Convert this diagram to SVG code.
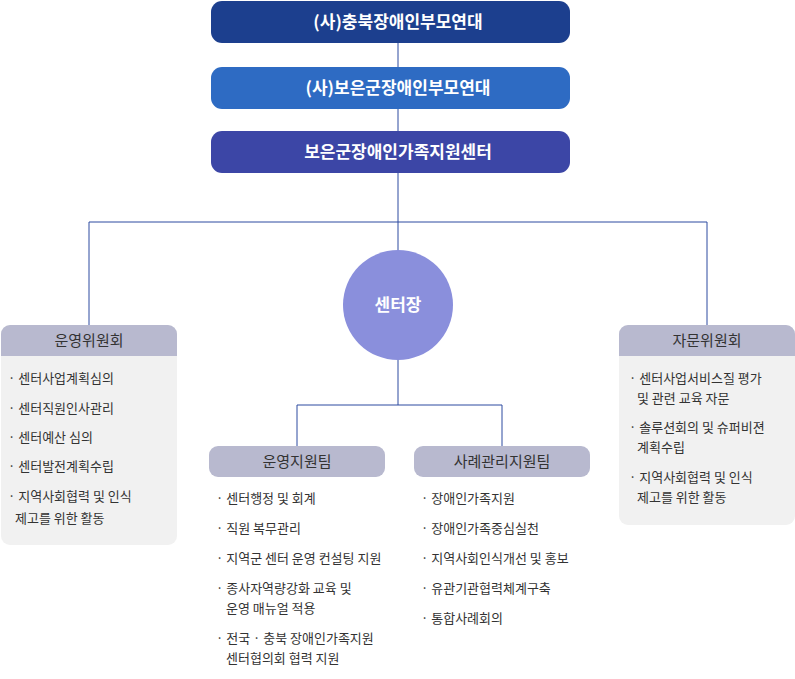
<svg xmlns="http://www.w3.org/2000/svg" width="795" height="679" viewBox="0 0 795 679">
<style>
text{font-family:"Noto Sans CJK KR","Noto Sans",sans-serif}
.tt{fill:#fff;font-size:17px;font-weight:bold;text-anchor:middle}
.hd{fill:#333;font-size:15px;text-anchor:middle}
.li{fill:#333;font-size:13px}
.ln{stroke:#2d4aa0;stroke-width:1;fill:none}
.hb{fill:#b8b9cf}
.bb{fill:#f1f1f1}
</style>
<g id="connectors">
<path class="ln" d="M398 43V67M398 109V131M398 173V250M89 325V222H707V325M398 360V405M297 446V405H502V446"/>
</g>
<g id="n1"><rect x="211" y="1" width="359" height="42" rx="11" fill="#1c3f8e"/><text class="tt" x="398" y="28">(사)충북장애인부모연대</text></g>
<g id="n2"><rect x="211" y="67" width="359" height="42" rx="11" fill="#2e6bc3"/><text class="tt" x="398" y="94">(사)보은군장애인부모연대</text></g>
<g id="n3"><rect x="211" y="131" width="359" height="42" rx="11" fill="#3c46a6"/><text class="tt" x="398" y="158">보은군장애인가족지원센터</text></g>
<g id="center"><circle cx="398" cy="305" r="55" fill="#8a8fdc"/><text class="tt" x="398" y="311">센터장</text></g>
<g id="left">
<rect class="bb" x="1" y="325" width="176" height="220" rx="9"/>
<path class="hb" d="M1 334a9 9 0 0 1 9-9h158a9 9 0 0 1 9 9v22H1z"/>
<text class="hd" x="89" y="346">운영위원회</text>
<text class="li" x="8" y="383">· 센터사업계획심의</text>
<text class="li" x="8" y="413">· 센터직원인사관리</text>
<text class="li" x="8" y="442">· 센터예산 심의</text>
<text class="li" x="8" y="471">· 센터발전계획수립</text>
<text class="li" x="8" y="501">· 지역사회협력 및 인식</text>
<text class="li" x="15" y="523">제고를 위한 활동</text>
</g>
<g id="right">
<rect class="bb" x="619" y="325" width="176" height="200" rx="9"/>
<path class="hb" d="M619 334a9 9 0 0 1 9-9h158a9 9 0 0 1 9 9v22H619z"/>
<text class="hd" x="707" y="346">자문위원회</text>
<text class="li" x="629" y="383">· 센터사업서비스질 평가</text>
<text class="li" x="637" y="403">및 관련 교육 자문</text>
<text class="li" x="629" y="432">· 솔루션회의 및 슈퍼비젼</text>
<text class="li" x="637" y="452">계획수립</text>
<text class="li" x="629" y="482">· 지역사회협력 및 인식</text>
<text class="li" x="637" y="502">제고를 위한 활동</text>
</g>
<g id="team1">
<rect class="hb" x="209" y="446" width="176" height="31" rx="9"/>
<text class="hd" x="297" y="467">운영지원팀</text>
<text class="li" x="216" y="503">· 센터행정 및 회계</text>
<text class="li" x="216" y="533">· 직원 복무관리</text>
<text class="li" x="216" y="563">· 지역군 센터 운영 컨설팅 지원</text>
<text class="li" x="216" y="593">· 종사자역량강화 교육 및</text>
<text class="li" x="226" y="613">운영 매뉴얼 적용</text>
<text class="li" x="216" y="643">· 전국 · 충북 장애인가족지원</text>
<text class="li" x="226" y="663">센터협의회 협력 지원</text>
</g>
<g id="team2">
<rect class="hb" x="414" y="446" width="176" height="31" rx="9"/>
<text class="hd" x="502" y="467">사례관리지원팀</text>
<text class="li" x="421" y="503">· 장애인가족지원</text>
<text class="li" x="421" y="533">· 장애인가족중심실천</text>
<text class="li" x="421" y="563">· 지역사회인식개선 및 홍보</text>
<text class="li" x="421" y="593">· 유관기관협력체계구축</text>
<text class="li" x="421" y="623">· 통합사례회의</text>
</g>
</svg>
